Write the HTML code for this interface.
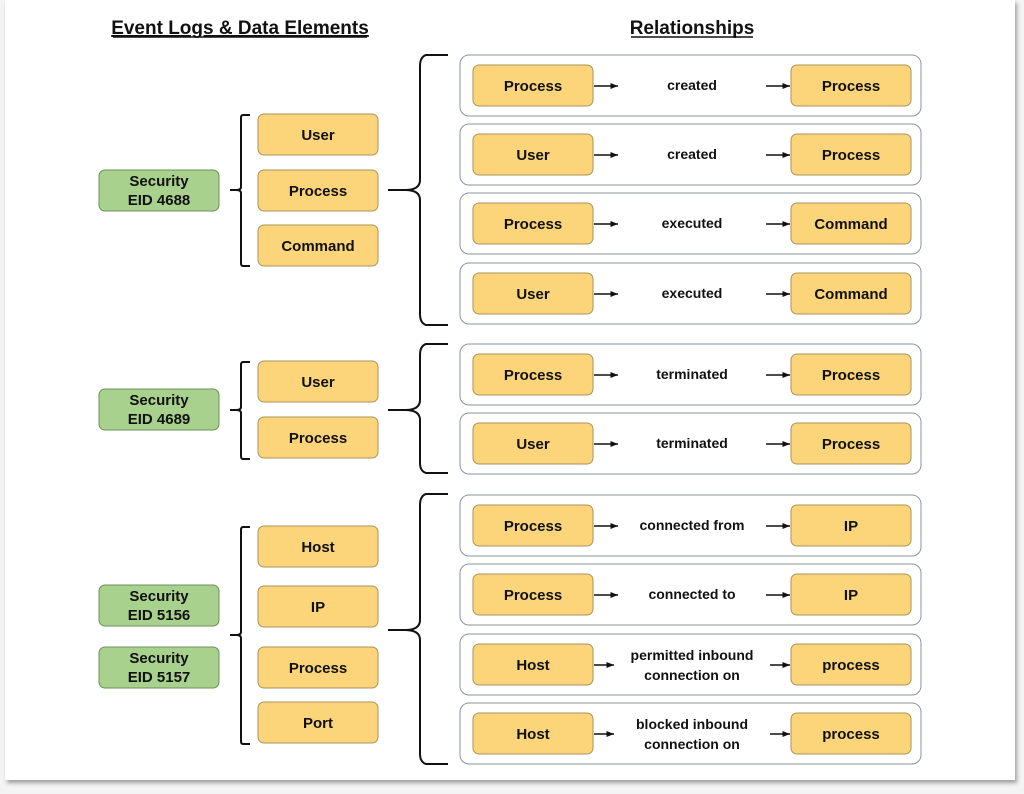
<!DOCTYPE html>
<html><head><meta charset="utf-8"><style>
html,body{margin:0;padding:0;background:#f4f4f4;}
body{width:1024px;height:794px;overflow:hidden;position:relative;}
.card{position:absolute;left:5px;top:0;width:1010px;height:780px;background:#fff;box-shadow:2px 3px 4px rgba(0,0,0,0.35);}
svg{position:absolute;left:0;top:0;}
text{font-family:"Liberation Sans",sans-serif;font-weight:bold;fill:#111;}
</style></head><body>
<div class="card"></div>
<svg width="1024" height="794" viewBox="0 0 1024 794">
<defs>
<marker id="a" markerWidth="6" markerHeight="6" refX="5" refY="3" orient="auto"><path d="M0,1 L5,3 L0,5z" fill="#111"/></marker>
<g id="y"><rect x="0" y="0" width="120" height="41" rx="6" fill="#fcd57a" stroke="#a8935a" stroke-width="1"/></g>
</defs>
<text x="240" y="34" font-size="19" text-anchor="middle" text-decoration="underline">Event Logs &amp; Data Elements</text>
<line x1="113" y1="37" x2="367" y2="37" stroke="#111" stroke-width="1.5"/>
<text x="692" y="34" font-size="19" text-anchor="middle">Relationships</text>
<line x1="631" y1="37" x2="753" y2="37" stroke="#111" stroke-width="1.5"/>

<g stroke="#111" stroke-width="2" fill="none">
<path d="M250,115 H243 Q241,115 241,118 V187 Q241,190 236,190 H230 M236,190 Q241,190 241,193 V263 Q241,266 243,266 H250"/>
<path d="M250,362 H243 Q241,362 241,365 V407 Q241,410 236,410 H230 M236,410 Q241,410 241,413 V456 Q241,459 243,459 H250"/>
<path d="M250,527 H243 Q241,527 241,530 V632 Q241,635 236,635 H230 M236,635 Q241,635 241,638 V741 Q241,744 243,744 H250"/>
<path d="M448,55 H426 Q420,57 420,66 V180 Q420,190 405,190 H388 M405,190 Q420,190 420,200 V314 Q420,323 426,325 H448"/>
<path d="M448,344 H426 Q420,346 420,355 V400 Q420,410 405,410 H388 M405,410 Q420,410 420,420 V463 Q420,471 426,473 H448"/>
<path d="M448,494 H426 Q420,496 420,505 V620 Q420,630 405,630 H388 M405,630 Q420,630 420,640 V754 Q420,762 426,764 H448"/>
</g>

<g font-size="15" text-anchor="middle">
<rect x="99" y="170" width="120" height="41" rx="6" fill="#a9d18e" stroke="#6b8f58"/>
<text x="159" y="186">Security</text><text x="159" y="205">EID 4688</text>
<rect x="99" y="389" width="120" height="41" rx="6" fill="#a9d18e" stroke="#6b8f58"/>
<text x="159" y="405">Security</text><text x="159" y="424">EID 4689</text>
<rect x="99" y="585" width="120" height="41" rx="6" fill="#a9d18e" stroke="#6b8f58"/>
<text x="159" y="601">Security</text><text x="159" y="620">EID 5156</text>
<rect x="99" y="647" width="120" height="41" rx="6" fill="#a9d18e" stroke="#6b8f58"/>
<text x="159" y="663">Security</text><text x="159" y="682">EID 5157</text>

<use href="#y" x="258" y="114"/><text x="318" y="140">User</text>
<use href="#y" x="258" y="170"/><text x="318" y="196">Process</text>
<use href="#y" x="258" y="225"/><text x="318" y="251">Command</text>
<use href="#y" x="258" y="361"/><text x="318" y="387">User</text>
<use href="#y" x="258" y="417"/><text x="318" y="443">Process</text>
<use href="#y" x="258" y="526"/><text x="318" y="552">Host</text>
<use href="#y" x="258" y="586"/><text x="318" y="612">IP</text>
<use href="#y" x="258" y="647"/><text x="318" y="673">Process</text>
<use href="#y" x="258" y="702"/><text x="318" y="728">Port</text>
</g>

<g font-size="15" text-anchor="middle">
<g transform="translate(0,55)"><rect x="460" y="0" width="461" height="61" rx="9" fill="#fff" stroke="#8a93a0"/><use href="#y" x="473" y="10"/><use href="#y" x="791" y="10"/><line x1="594" y1="31" x2="618" y2="31" stroke="#111" stroke-width="1.5" marker-end="url(#a)"/><line x1="766" y1="31" x2="790" y2="31" stroke="#111" stroke-width="1.5" marker-end="url(#a)"/><text x="533" y="36">Process</text><text x="692" y="35" font-size="14">created</text><text x="851" y="36">Process</text></g>
<g transform="translate(0,124)"><rect x="460" y="0" width="461" height="61" rx="9" fill="#fff" stroke="#8a93a0"/><use href="#y" x="473" y="10"/><use href="#y" x="791" y="10"/><line x1="594" y1="31" x2="618" y2="31" stroke="#111" stroke-width="1.5" marker-end="url(#a)"/><line x1="766" y1="31" x2="790" y2="31" stroke="#111" stroke-width="1.5" marker-end="url(#a)"/><text x="533" y="36">User</text><text x="692" y="35" font-size="14">created</text><text x="851" y="36">Process</text></g>
<g transform="translate(0,193)"><rect x="460" y="0" width="461" height="61" rx="9" fill="#fff" stroke="#8a93a0"/><use href="#y" x="473" y="10"/><use href="#y" x="791" y="10"/><line x1="594" y1="31" x2="618" y2="31" stroke="#111" stroke-width="1.5" marker-end="url(#a)"/><line x1="766" y1="31" x2="790" y2="31" stroke="#111" stroke-width="1.5" marker-end="url(#a)"/><text x="533" y="36">Process</text><text x="692" y="35" font-size="14">executed</text><text x="851" y="36">Command</text></g>
<g transform="translate(0,263)"><rect x="460" y="0" width="461" height="61" rx="9" fill="#fff" stroke="#8a93a0"/><use href="#y" x="473" y="10"/><use href="#y" x="791" y="10"/><line x1="594" y1="31" x2="618" y2="31" stroke="#111" stroke-width="1.5" marker-end="url(#a)"/><line x1="766" y1="31" x2="790" y2="31" stroke="#111" stroke-width="1.5" marker-end="url(#a)"/><text x="533" y="36">User</text><text x="692" y="35" font-size="14">executed</text><text x="851" y="36">Command</text></g>
<g transform="translate(0,344)"><rect x="460" y="0" width="461" height="61" rx="9" fill="#fff" stroke="#8a93a0"/><use href="#y" x="473" y="10"/><use href="#y" x="791" y="10"/><line x1="594" y1="31" x2="618" y2="31" stroke="#111" stroke-width="1.5" marker-end="url(#a)"/><line x1="766" y1="31" x2="790" y2="31" stroke="#111" stroke-width="1.5" marker-end="url(#a)"/><text x="533" y="36">Process</text><text x="692" y="35" font-size="14">terminated</text><text x="851" y="36">Process</text></g>
<g transform="translate(0,413)"><rect x="460" y="0" width="461" height="61" rx="9" fill="#fff" stroke="#8a93a0"/><use href="#y" x="473" y="10"/><use href="#y" x="791" y="10"/><line x1="594" y1="31" x2="618" y2="31" stroke="#111" stroke-width="1.5" marker-end="url(#a)"/><line x1="766" y1="31" x2="790" y2="31" stroke="#111" stroke-width="1.5" marker-end="url(#a)"/><text x="533" y="36">User</text><text x="692" y="35" font-size="14">terminated</text><text x="851" y="36">Process</text></g>
<g transform="translate(0,495)"><rect x="460" y="0" width="461" height="61" rx="9" fill="#fff" stroke="#8a93a0"/><use href="#y" x="473" y="10"/><use href="#y" x="791" y="10"/><line x1="594" y1="31" x2="618" y2="31" stroke="#111" stroke-width="1.5" marker-end="url(#a)"/><line x1="766" y1="31" x2="790" y2="31" stroke="#111" stroke-width="1.5" marker-end="url(#a)"/><text x="533" y="36">Process</text><text x="692" y="35" font-size="14">connected from</text><text x="851" y="36">IP</text></g>
<g transform="translate(0,564)"><rect x="460" y="0" width="461" height="61" rx="9" fill="#fff" stroke="#8a93a0"/><use href="#y" x="473" y="10"/><use href="#y" x="791" y="10"/><line x1="594" y1="31" x2="618" y2="31" stroke="#111" stroke-width="1.5" marker-end="url(#a)"/><line x1="766" y1="31" x2="790" y2="31" stroke="#111" stroke-width="1.5" marker-end="url(#a)"/><text x="533" y="36">Process</text><text x="692" y="35" font-size="14">connected to</text><text x="851" y="36">IP</text></g>
<g transform="translate(0,634)"><rect x="460" y="0" width="461" height="61" rx="9" fill="#fff" stroke="#8a93a0"/><use href="#y" x="473" y="10"/><use href="#y" x="791" y="10"/><line x1="594" y1="31" x2="614" y2="31" stroke="#111" stroke-width="1.5" marker-end="url(#a)"/><line x1="770" y1="31" x2="790" y2="31" stroke="#111" stroke-width="1.5" marker-end="url(#a)"/><text x="533" y="36">Host</text><text x="692" y="26" font-size="14">permitted inbound</text><text x="692" y="46" font-size="14">connection on</text><text x="851" y="36">process</text></g>
<g transform="translate(0,703)"><rect x="460" y="0" width="461" height="61" rx="9" fill="#fff" stroke="#8a93a0"/><use href="#y" x="473" y="10"/><use href="#y" x="791" y="10"/><line x1="594" y1="31" x2="614" y2="31" stroke="#111" stroke-width="1.5" marker-end="url(#a)"/><line x1="770" y1="31" x2="790" y2="31" stroke="#111" stroke-width="1.5" marker-end="url(#a)"/><text x="533" y="36">Host</text><text x="692" y="26" font-size="14">blocked inbound</text><text x="692" y="46" font-size="14">connection on</text><text x="851" y="36">process</text></g>
</g>
</svg>
</body></html>
